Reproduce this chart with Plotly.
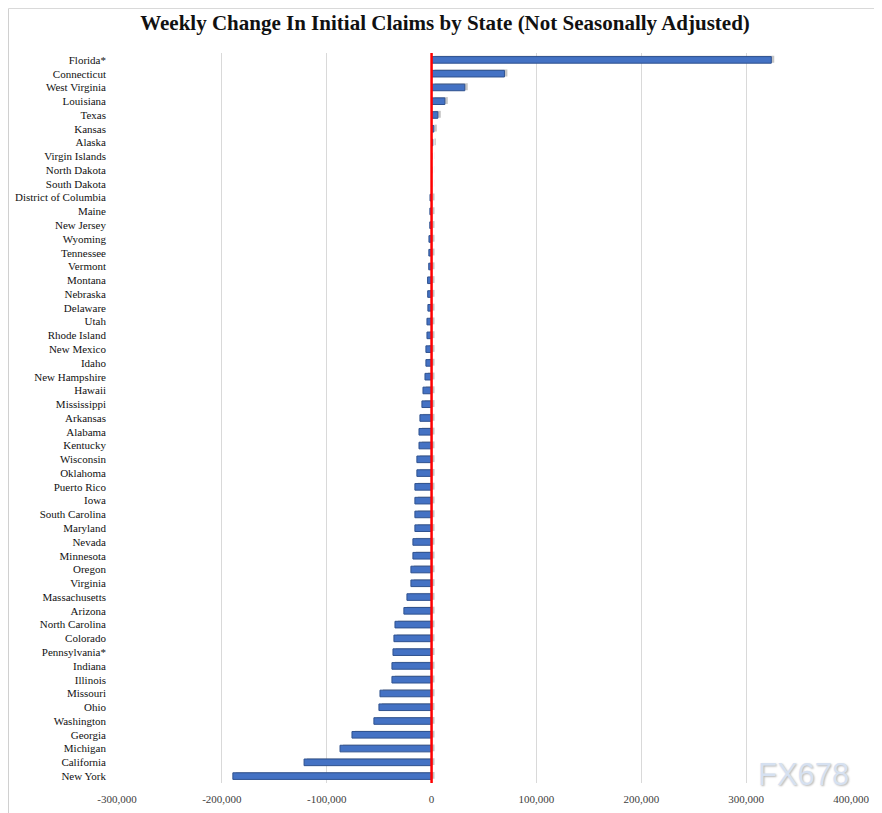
import plotly.graph_objects as go

states = ["Florida*", "Connecticut", "West Virginia", "Louisiana", "Texas", "Kansas", "Alaska",
          "Virgin Islands", "North Dakota", "South Dakota", "District of Columbia", "Maine",
          "New Jersey", "Wyoming", "Tennessee", "Vermont", "Montana", "Nebraska", "Delaware",
          "Utah", "Rhode Island", "New Mexico", "Idaho", "New Hampshire", "Hawaii", "Mississippi",
          "Arkansas", "Alabama", "Kentucky", "Wisconsin", "Oklahoma", "Puerto Rico", "Iowa",
          "South Carolina", "Maryland", "Nevada", "Minnesota", "Oregon", "Virginia",
          "Massachusetts", "Arizona", "North Carolina", "Colorado", "Pennsylvania*", "Indiana",
          "Illinois", "Missouri", "Ohio", "Washington", "Georgia", "Michigan", "California",
          "New York"]
changes = [324000, 69500, 31700, 12700, 6000, 2200, 1200,
           150, 100, -100, -1500, -1600,
           -1700, -2500, -2600, -2700, -3800, -3700, -3500,
           -4400, -4400, -5400, -5400, -6300, -8200, -9200,
           -11100, -12000, -12000, -14000, -14000, -15900, -15900,
           -15900, -15900, -17800, -17800, -19700, -19700,
           -23500, -26400, -34900, -35900, -36800, -37800,
           -37800, -49200, -50200, -55000, -75900, -87300, -121600,
           -189500]
x_ticks = [-300000, -200000, -100000, 0, 100000, 200000, 300000, 400000]
x_tick_text = ["-300,000", "-200,000", "-100,000", "0", "100,000", "200,000", "300,000", "400,000"]

serif = "Liberation Serif"

fig = go.Figure()
# soft shadow behind bars
fig.add_trace(go.Bar(
    y=states, x=changes, orientation="h", base=2800, offset=-0.2, width=0.5,
    marker=dict(color="rgba(110,110,110,0.4)", line=dict(width=0)),
    hoverinfo="skip", showlegend=False))
fig.add_trace(go.Bar(
    y=states, x=changes, orientation="h", width=0.48,
    marker=dict(color="#4472C4", line=dict(color="#2F528F", width=1)),
    showlegend=False))

# page body has an 8px margin; figure is sized/placed to compensate
W, H = 874, 805
L, R, T, B = 109, 31, 45, 30
pw, ph = W - L - R, H - T - B


def px_x(x):
    return (x - L) / pw


def px_y(y):
    return (H - B - y) / ph


fig.update_layout(
    width=W, height=H,
    margin=dict(l=L, r=R, t=T, b=B, autoexpand=False),
    paper_bgcolor="white", plot_bgcolor="white",
    barmode="overlay",
    title=dict(text="Weekly Change In Initial Claims by State (Not Seasonally Adjusted)",
               x=0.5, xanchor="center", y=1 - 15 / H, yanchor="middle",
               font=dict(family=serif, size=21, color="#111111", weight="bold")),
    xaxis=dict(range=[-300000, 400000], tickvals=x_ticks, ticktext=x_tick_text,
               automargin=False,
               showgrid=True, gridcolor="#d9d9d9", gridwidth=1, zeroline=False,
               showline=False, ticks="outside", ticklen=6, tickcolor="rgba(0,0,0,0)",
               tickfont=dict(family=serif, size=11, color="#404040")),
    yaxis=dict(categoryorder="array", categoryarray=states[::-1],
               automargin=False,
               autorange=True, showgrid=False, zeroline=False, showline=False,
               ticks="", ticklabelstandoff=10,
               tickfont=dict(family=serif, size=11, color="#111111")),
    font=dict(family=serif),
    shapes=[
        dict(type="line", xref="x", yref="paper", x0=0, x1=0, y0=0, y1=1.0,
             line=dict(color="#FF0000", width=2.5)),
        dict(type="line", xref="paper", yref="paper",
             x0=px_x(0.5), x1=px_x(0.5), y0=px_y(H), y1=px_y(0.5),
             line=dict(color="#d0d0d0", width=1)),
        dict(type="line", xref="paper", yref="paper",
             x0=px_x(0.5), x1=px_x(W), y0=px_y(0.5), y1=px_y(0.5),
             line=dict(color="#d9d9d9", width=1)),
    ],
    annotations=[
        dict(text="FX678", xref="paper", yref="paper",
             x=px_x(795), y=px_y(766), xanchor="center", yanchor="middle",
             showarrow=False,
             font=dict(family="Liberation Sans", size=31, color="#d6e1f1",
                       shadow="1px 1px 2px #b8b8b8")),
    ],
)

fig.write_html("out.html")
